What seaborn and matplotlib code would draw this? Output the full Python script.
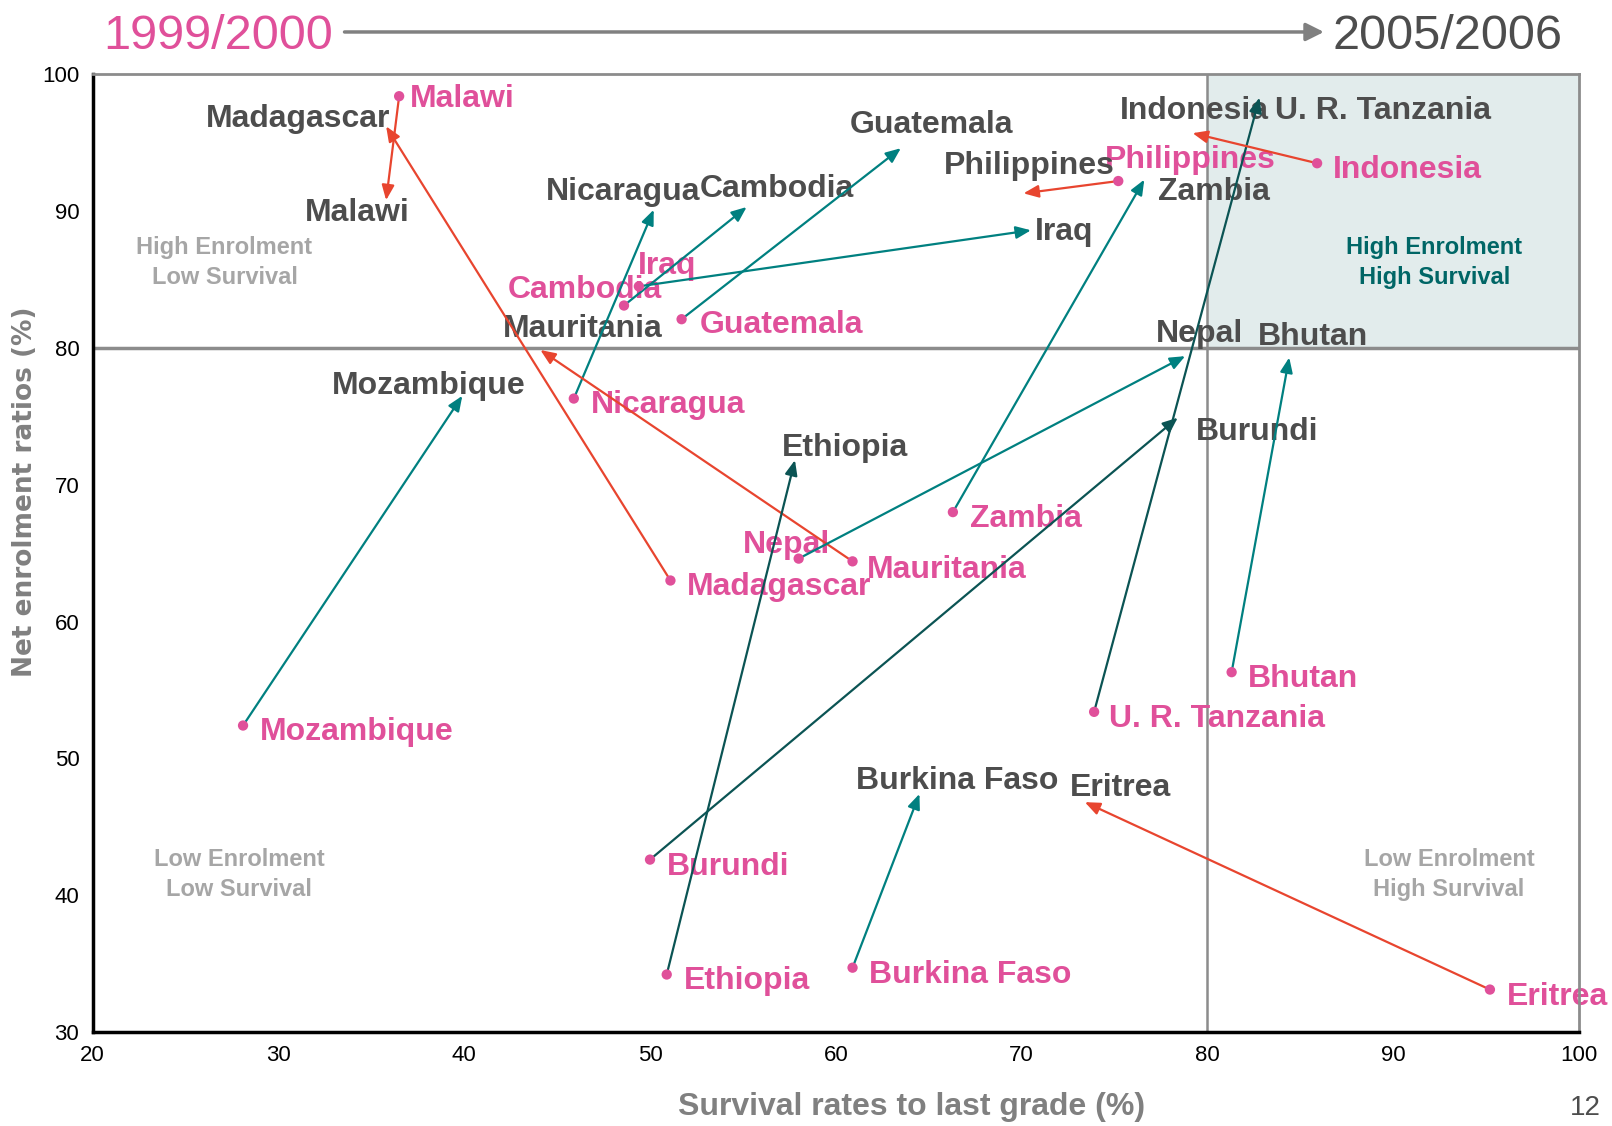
import matplotlib
matplotlib.use('Agg')
import matplotlib.pyplot as plt
from matplotlib.patches import Rectangle, FancyArrowPatch
import seaborn as sns
import pandas as pd

# Data: survival rate to last grade (%) and net enrolment ratio (%)
countries = ['Malawi', 'Madagascar', 'Mozambique', 'Nicaragua', 'Cambodia', 'Iraq',
             'Guatemala', 'Mauritania', 'Nepal', 'Ethiopia', 'Burundi', 'Burkina Faso',
             'Eritrea', 'Zambia', 'U. R. Tanzania', 'Bhutan', 'Indonesia', 'Philippines']
surv_2000 = [36.5, 51.1, 28.1, 45.9, 48.6, 49.4, 51.7, 60.9, 58.0, 50.9, 50.0, 60.9,
             95.2, 66.3, 73.9, 81.3, 85.9, 75.2]
ner_2000 = [98.4, 63.0, 52.4, 76.3, 83.1, 84.5, 82.1, 64.4, 64.6, 34.2, 42.6, 34.7,
            33.1, 68.0, 53.4, 56.3, 93.5, 92.2]
surv_2006 = [35.8, 35.8, 39.9, 50.2, 55.2, 70.5, 63.5, 44.1, 78.8, 57.8, 78.4, 64.5,
             73.4, 76.6, 82.8, 84.4, 79.2, 70.1]
ner_2006 = [90.8, 96.2, 76.5, 90.1, 90.3, 88.6, 94.6, 79.85, 79.4, 71.8, 74.9, 47.4,
            46.8, 92.3, 98.3, 79.3, 95.7, 91.3]
trend = ['down', 'down', 'up', 'up', 'up', 'up', 'up', 'down', 'up', 'strong', 'strong', 'up',
         'down', 'up', 'strong', 'up', 'down', 'down']

df = pd.DataFrame({'country': countries, 'surv_2000': surv_2000, 'ner_2000': ner_2000,
                   'surv_2006': surv_2006, 'ner_2006': ner_2006, 'trend': trend})

# label placement (offset in points, horizontal alignment)
off_2000 = {
    'Malawi': (8, -2, 'left'), 'Madagascar': (12, -5, 'left'), 'Mozambique': (12, -5, 'left'),
    'Nicaragua': (12, -5, 'left'), 'Cambodia': (-28, 11, 'center'), 'Iraq': (-1, 15, 'left'),
    'Guatemala': (13, -4, 'left'), 'Mauritania': (10, -6, 'left'), 'Nepal': (-9, 10, 'center'),
    'Ethiopia': (12, -5, 'left'), 'Burundi': (12, -5, 'left'), 'Burkina Faso': (12, -5, 'left'),
    'Eritrea': (12, -5, 'left'), 'Zambia': (12, -5, 'left'), 'U. R. Tanzania': (11, -5, 'left'),
    'Bhutan': (12, -5, 'left'), 'Indonesia': (11, -5, 'left'), 'Philippines': (-10, 15, 'left'),
}
off_2006 = {
    'Malawi': (-21, -9, 'center'), 'Madagascar': (3, 5, 'right'), 'Mozambique': (-24, 7, 'center'),
    'Nicaragua': (-22, 13, 'center'), 'Cambodia': (22, 13, 'center'), 'Iraq': (3, -1, 'left'),
    'Guatemala': (22, 17, 'center'), 'Mauritania': (-27, 15, 'left'), 'Nepal': (10, 16, 'center'),
    'Ethiopia': (36, 9, 'center'), 'Burundi': (13, -10, 'left'), 'Burkina Faso': (27, 9, 'center'),
    'Eritrea': (26, 10, 'center'), 'Zambia': (10, -9, 'left'), 'U. R. Tanzania': (11, -10, 'left'),
    'Bhutan': (17, 15, 'center'), 'Indonesia': (1, 16, 'center'), 'Philippines': (4, 20, 'center'),
}

PINK = '#E0509A'
DARK = '#4D4D4D'
GREY = '#808080'
arrow_colors = {'down': '#E8452F', 'up': '#008080', 'strong': '#0B5454'}

sns.set_style('white')
plt.rcParams['font.family'] = ['Liberation Sans', 'DejaVu Sans']

fig = plt.figure(figsize=(16.12, 11.26), dpi=100)
ax = fig.add_axes([0.0574, 0.0835, 0.9222, 0.8505])

# quadrant shading and dividers
ax.add_patch(Rectangle((80, 80), 20, 20, facecolor='#E2ECEC', edgecolor='none', zorder=0))
ax.axhline(80, color='#8C8C8C', lw=2.5, zorder=1)
ax.axvline(80, color='#8C8C8C', lw=1.8, zorder=1)

# labels
for _, r in df.iterrows():
    dx, dy, ha = off_2000[r['country']]
    ax.annotate(r['country'], (r['surv_2000'], r['ner_2000']), xytext=(dx, dy),
                textcoords='offset points', ha=ha, va='center', color=PINK,
                fontsize=23, fontweight='bold', zorder=2)
    dx, dy, ha = off_2006[r['country']]
    ax.annotate(r['country'], (r['surv_2006'], r['ner_2006']), xytext=(dx, dy),
                textcoords='offset points', ha=ha, va='center', color=DARK,
                fontsize=23, fontweight='bold', zorder=2)

# arrows from 1999/2000 to 2005/2006
for _, r in df.iterrows():
    ax.annotate('', xy=(r['surv_2006'], r['ner_2006']), xytext=(r['surv_2000'], r['ner_2000']),
                arrowprops=dict(arrowstyle='-|>,head_length=0.6,head_width=0.25',
                                mutation_scale=15, color=arrow_colors[r['trend']],
                                lw=1.6, shrinkA=0, shrinkB=0), zorder=3)

sns.scatterplot(data=df, x='surv_2000', y='ner_2000', color=PINK, s=55,
                edgecolor='none', ax=ax, zorder=4)

# quadrant captions
quad = dict(ha='center', va='center', fontsize=17, fontweight='bold', linespacing=1.4)
ax.text(27.1, 86.25, 'High Enrolment\nLow Survival', color='#A6A6A6', **quad)
ax.text(92.2, 86.25, 'High Enrolment\nHigh Survival', color='#006666', **quad)
ax.text(27.9, 41.5, 'Low Enrolment\nLow Survival', color='#A6A6A6', **quad)
ax.text(93.0, 41.5, 'Low Enrolment\nHigh Survival', color='#A6A6A6', **quad)

ax.set_xlim(20, 100)
ax.set_ylim(30, 100)
ax.set_xticks(range(20, 101, 10))
ax.set_yticks(range(30, 101, 10))
ax.tick_params(direction='out', length=6, width=1.5, colors='black', labelsize=16)

for side in ['left', 'bottom']:
    ax.spines[side].set_color('black')
    ax.spines[side].set_linewidth(2.5)
for side in ['top', 'right']:
    ax.spines[side].set_color('#8C8C8C')
    ax.spines[side].set_linewidth(2)
    ax.spines[side].set_visible(True)

ax.set_xlabel('Survival rates to last grade (%)', fontsize=23, fontweight='bold', color=GREY)
ax.set_ylabel('Net enrolment ratios (%)', fontsize=19, fontweight='bold', color=GREY,
              family=['DejaVu Sans'])
ax.xaxis.set_label_coords(0.551, -0.063)
ax.yaxis.set_label_coords(-0.037, 0.564)

# period header
fig.text(0.064, 0.968, '1999/2000', color=PINK, fontsize=35, ha='left', va='center')
fig.text(0.969, 0.968, '2005/2006', color=DARK, fontsize=35, ha='right', va='center')
fig.patches.append(FancyArrowPatch(
    (0.212, 0.9716), (0.823, 0.9716), transform=fig.transFigure,
    arrowstyle='-|>,head_length=0.6,head_width=0.3', mutation_scale=18,
    color='#808080', lw=2.5))
fig.text(0.993, 0.004, '12', color=DARK, fontsize=20, ha='right', va='bottom')

fig.savefig('out.png', dpi=100, facecolor='white')
